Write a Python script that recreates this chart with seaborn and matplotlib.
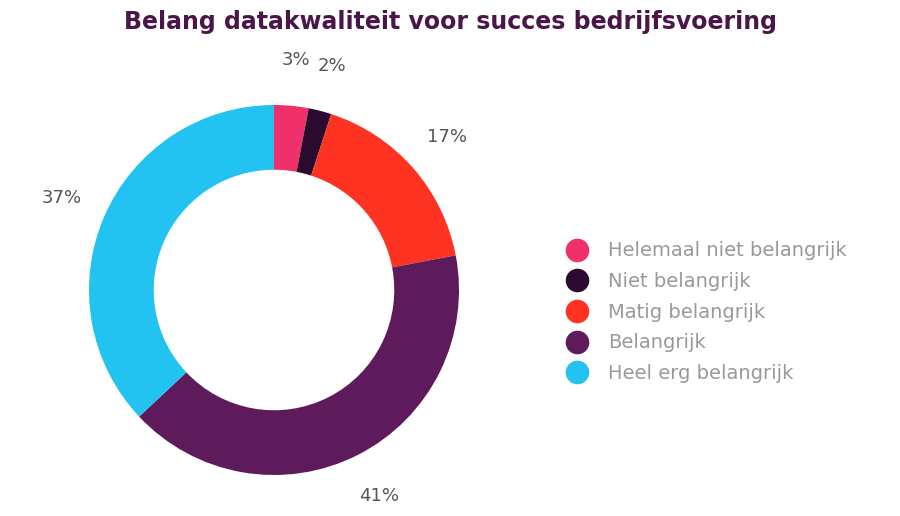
import matplotlib
matplotlib.use("Agg")
import matplotlib.pyplot as plt
import seaborn as sns
from matplotlib.lines import Line2D

categories = ["Helemaal niet belangrijk", "Niet belangrijk", "Matig belangrijk", "Belangrijk", "Heel erg belangrijk"]
values = [3, 2, 17, 41, 37]
colors = ["#F0306A", "#2A0A2E", "#FF3322", "#5E1B5C", "#22C3F0"]

sns.set_theme(style="white")
fig = plt.figure(figsize=(9, 5.16), dpi=100)
W, H = 900, 516
R = 185
cx, cy = 274, 516 - 290
size = 3 * R
ax = fig.add_axes([(cx - size / 2) / W, (cy - size / 2) / H, size / W, size / H])

wedges, texts = ax.pie(values, colors=colors, startangle=90, counterclock=False,
                       labels=[f"{v}%" for v in values], labeldistance=1.25,
                       wedgeprops=dict(width=0.35, linewidth=0), radius=1.0,
                       textprops=dict(color="#555555", fontsize=13))
for t in texts:
    t.set_ha("center"); t.set_va("center")
ax.set_xlim(-1.5, 1.5); ax.set_ylim(-1.5, 1.5); ax.set_aspect("equal"); ax.axis("off")

fig.text(0.5, 1 - 22 / H, "Belang datakwaliteit voor succes bedrijfsvoering", ha="center", va="center",
         fontsize=17, fontweight="bold", color="#4A1548")

handles = [Line2D([0], [0], marker="o", linestyle="", markersize=17, markerfacecolor=c, markeredgewidth=0)
           for c in colors]
fig.legend(handles, categories, loc="upper left", bbox_to_anchor=(540 / W, 1 - 224 / H),
           frameon=False, fontsize=14, labelspacing=0.6, handletextpad=0.6, labelcolor="#999999")

fig.savefig("out.png", dpi=100, facecolor="white")
